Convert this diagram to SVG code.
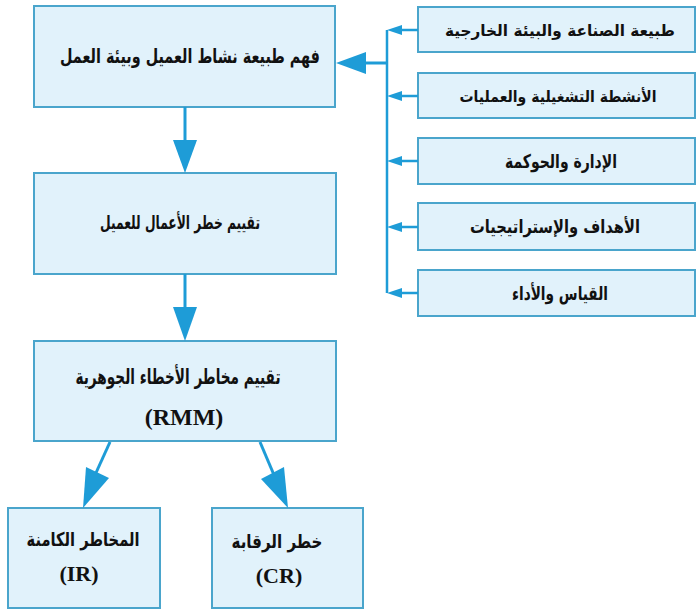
<svg xmlns="http://www.w3.org/2000/svg" width="696" height="610" viewBox="0 0 696 610">
  <style>
    .box { fill: #e1f2fb; stroke: #4aa5cc; stroke-width: 2; }
    .ar { font-family: "DejaVu Sans", "Liberation Sans", sans-serif; font-weight: bold; fill: #111; text-anchor: middle; }
    .lat { font-family: "Liberation Serif", "Times New Roman", serif; font-weight: bold; fill: #111; text-anchor: middle; }
    .line { stroke: #1e9cd7; fill: none; }
    .head { fill: #1e9cd7; }
  </style>
  <rect width="696" height="610" fill="#ffffff"/>

  <!-- main flow -->
  <g id="understand-client">
    <rect class="box" x="34" y="6" width="301" height="101"/>
    <text class="ar" x="190" y="63" font-size="20" textLength="260" lengthAdjust="spacingAndGlyphs">فهم طبيعة نشاط العميل وبيئة العمل</text>
  </g>
  <g id="business-risk">
    <rect class="box" x="34" y="173" width="302" height="101"/>
    <text class="ar" x="180" y="229" font-size="19" textLength="160" lengthAdjust="spacingAndGlyphs">تقييم خطر الأعمال للعميل</text>
  </g>
  <g id="rmm">
    <rect class="box" x="34" y="341" width="302" height="100"/>
    <text class="ar" x="178" y="384" font-size="21" textLength="205" lengthAdjust="spacingAndGlyphs">تقييم مخاطر الأخطاء الجوهرية</text>
    <text class="lat" x="184" y="425" font-size="24">(RMM)</text>
  </g>
  <g id="inherent-risk">
    <rect class="box" x="8" y="508" width="152" height="100"/>
    <text class="ar" x="83" y="546" font-size="19" textLength="113" lengthAdjust="spacingAndGlyphs">المخاطر الكامنة</text>
    <text class="lat" x="79" y="581" font-size="22">(IR)</text>
  </g>
  <g id="control-risk">
    <rect class="box" x="212" y="508" width="151" height="100"/>
    <text class="ar" x="277" y="548" font-size="19" textLength="91" lengthAdjust="spacingAndGlyphs">خطر الرقابة</text>
    <text class="lat" x="279" y="583" font-size="22">(CR)</text>
  </g>

  <!-- factor boxes -->
  <g id="industry">
    <rect class="box" x="418" y="7" width="277" height="45"/>
    <text class="ar" x="560" y="36" font-size="16" textLength="230" lengthAdjust="spacingAndGlyphs">طبيعة الصناعة والبيئة الخارجية</text>
  </g>
  <g id="operations">
    <rect class="box" x="418" y="73" width="277" height="45"/>
    <text class="ar" x="558" y="102" font-size="16" textLength="197" lengthAdjust="spacingAndGlyphs">الأنشطة التشغيلية والعمليات</text>
  </g>
  <g id="governance">
    <rect class="box" x="418" y="138" width="277" height="46"/>
    <text class="ar" x="561" y="168" font-size="19" textLength="112" lengthAdjust="spacingAndGlyphs">الإدارة والحوكمة</text>
  </g>
  <g id="objectives">
    <rect class="box" x="418" y="203" width="277" height="47"/>
    <text class="ar" x="555" y="233" font-size="18" textLength="170" lengthAdjust="spacingAndGlyphs">الأهداف والإستراتيجيات</text>
  </g>
  <g id="measurement">
    <rect class="box" x="418" y="270" width="277" height="46"/>
    <text class="ar" x="560" y="300" font-size="19" textLength="96" lengthAdjust="spacingAndGlyphs">القياس والأداء</text>
  </g>

  <!-- connectors -->
  <g id="connectors">
    <!-- vertical flow -->
    <line class="line" x1="185" y1="107" x2="185" y2="142" stroke-width="3"/>
    <polygon class="head" points="173,140 197,140 185,173"/>
    <line class="line" x1="185" y1="274" x2="185" y2="309" stroke-width="3"/>
    <polygon class="head" points="173,307 197,307 185,341"/>

    <!-- split to IR / CR -->
    <line class="line" x1="110" y1="442" x2="95" y2="475" stroke-width="3"/>
    <polygon class="head" points="86,467 109,478 83,508"/>
    <line class="line" x1="260" y1="442" x2="274" y2="475" stroke-width="3"/>
    <polygon class="head" points="261,479 284,467 288,508"/>

    <!-- factor bus -->
    <line class="line" x1="387" y1="30" x2="387" y2="293" stroke-width="2.5"/>
    <line class="line" x1="387" y1="63" x2="363" y2="63" stroke-width="3"/>
    <polygon class="head" points="366,52 366,74 336,63"/>

    <line class="line" x1="418" y1="30" x2="400" y2="30" stroke-width="2.5"/>
    <polygon class="head" points="402,25 402,35 387,30"/>
    <line class="line" x1="418" y1="96" x2="400" y2="96" stroke-width="2.5"/>
    <polygon class="head" points="402,91 402,101 387,96"/>
    <line class="line" x1="418" y1="161" x2="400" y2="161" stroke-width="2.5"/>
    <polygon class="head" points="402,156 402,166 387,161"/>
    <line class="line" x1="418" y1="227" x2="400" y2="227" stroke-width="2.5"/>
    <polygon class="head" points="402,222 402,232 387,227"/>
    <line class="line" x1="418" y1="293" x2="400" y2="293" stroke-width="2.5"/>
    <polygon class="head" points="402,288 402,298 387,293"/>
  </g>
</svg>
